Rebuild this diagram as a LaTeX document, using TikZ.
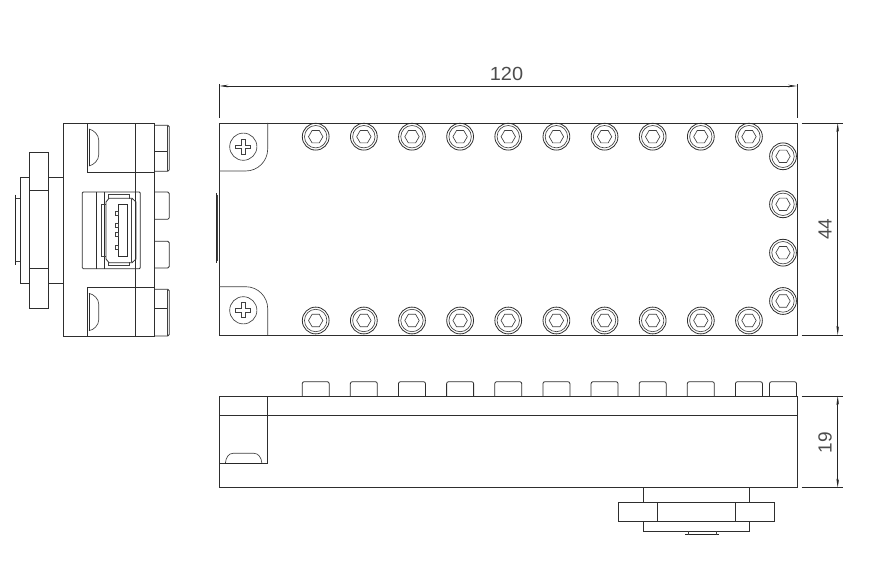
\documentclass[tikz,border=0pt]{standalone}
\usepackage{fontspec}
\setmainfont{Liberation Sans}
\usetikzlibrary{%
  arrows.meta%
}
\tikzset{
  part/.style={line width=0.8pt,draw=black!82},
  thin part/.style={line width=0.65pt,draw=black!75},
  heavy/.style={line width=1.2pt,draw=black!85},
  dim/.style={line width=0.7pt,draw=black!85},
  dimarrow/.style={dim,{Stealth[length=9pt,width=2.6pt]}-{Stealth[length=9pt,width=2.6pt]}},
  dimtext/.style={text=black!70,font=\fontsize{19}{19}\selectfont,inner sep=0pt}
}
\newcommand{\bolthead}[2]{%
  \draw [part] (#1,#2) circle (13.4);
  \draw [thin part] (#1,#2) circle (11.2);
  \draw [thin part] (#1-7.2,#2) -- (#1-3.6,#2-6.2) -- (#1+3.6,#2-6.2) -- (#1+7.2,#2) -- (#1+3.6,#2+6.2) -- (#1-3.6,#2+6.2) -- cycle;
}
\newcommand{\crossscrew}[2]{%
  \draw [thin part] (#1,#2) circle (13.6);
  \draw [thin part] (#1-1.6,#2-7.5) -- (#1+1.6,#2-7.5) -- (#1+1.6,#2-1.6) -- (#1+7.5,#2-1.6) -- (#1+7.5,#2+1.6) -- (#1+1.6,#2+1.6) -- (#1+1.6,#2+7.5) -- (#1-1.6,#2+7.5) -- (#1-1.6,#2+1.6) -- (#1-7.5,#2+1.6) -- (#1-7.5,#2-1.6) -- (#1-1.6,#2-1.6) -- cycle;
}
\newcommand{\sidebolt}[1]{%
  \draw [part,rounded corners=2pt] (#1-13.5,396) -- (#1-13.5,381.7) -- (#1+13.5,381.7) -- (#1+13.5,396);
}
\begin{document}
\begin{tikzpicture}[x=1pt,y=-1pt]
  \useasboundingbox (0,0) rectangle (870,572);
  % top view
  \draw [part] (219.3,123) rectangle (797,335);
  \draw [thin part] (267.7,123) -- (267.7,149) arc (0:90:22) -- (219.3,171);
  \draw [thin part] (219.3,286.7) -- (245.7,286.7) arc (-90:0:22) -- (267.7,335);
  \crossscrew{243.3}{146.7}
  \crossscrew{243.3}{310.3}
  \draw [part] (216.4,193) -- (216.4,263);
  \draw [thin part] (217.8,195) -- (217.8,261);
  \foreach \k in {0,...,9} {
    \pgfmathsetmacro{\bx}{315.7+48.14*\k}
    \bolthead{\bx}{136.7}
    \bolthead{\bx}{320.5}
  }
  \foreach \by in {156.3,204.3,252.7,301} {
    \bolthead{783}{\by}
  }
  % dimensions
  \coordinate (dimL) at (219.3,86);
  \coordinate (dimR) at (797,86);
  \draw [dim] (219.3,84) -- (219.3,118);
  \draw [dim] (797,84) -- (797,118);
  \draw [dimarrow] (dimL) -- (dimR);
  \node [dimtext,xscale=1.05] (len) at (506.5,74) {120};
  \draw [dim] (801.7,123) -- (842.7,123);
  \draw [dim] (801.7,335) -- (842.7,335);
  \coordinate (dimT) at (837.7,123);
  \coordinate (dimB) at (837.7,335);
  \draw [dimarrow] (dimT) -- (dimB);
  \node [dimtext,rotate=90] (wid) at (825,229) {44};
  \draw [dim] (801.7,396) -- (842.7,396);
  \draw [dim] (801.7,487.7) -- (842.7,487.7);
  \coordinate (dimU) at (837.7,396);
  \coordinate (dimD) at (837.7,487.7);
  \draw [dimarrow] (dimU) -- (dimD);
  \node [dimtext,rotate=90] (hgt) at (825,442.7) {19};
  % front view
  \draw [part] (219.3,396) rectangle (797,487.7);
  \draw [part] (219.3,415.3) -- (797,415.3);
  \draw [part] (267.7,396) -- (267.7,463.7) -- (219.3,463.7);
  \draw [thin part] (225.3,463.7) .. controls (225.8,457) and (229,453.3) .. (233,453.3) -- (254,453.3) .. controls (258,453.3) and (261.5,457) .. (262,463.7);
  \draw [heavy] (225.3,463.2) -- (262,463.2);
  \foreach \k in {0,...,9} {
    \pgfmathsetmacro{\bx}{315.7+48.14*\k}
    \sidebolt{\bx}
  }
  \sidebolt{783}
  \draw [part] (643.3,487.7) -- (643.3,502.3);
  \draw [part] (749,487.7) -- (749,502.3);
  \draw [part] (618.3,502.3) rectangle (774,521.3);
  \draw [part] (657.3,502.3) -- (657.3,521.3);
  \draw [part] (735,502.3) -- (735,521.3);
  \draw [part] (643.3,521.3) -- (643.3,531.3) -- (749,531.3) -- (749,521.3);
  \draw [heavy] (685,534.5) -- (719.3,534.5);
  \draw [thin part] (688.3,531.3) -- (688.3,535);
  \draw [thin part] (716.7,531.3) -- (716.7,535);
  % side view
  \draw [part] (63.3,123.7) rectangle (154.7,336);
  \draw [part] (135.7,123.7) -- (135.7,336);
  \draw [part] (87.7,123.7) -- (87.7,172) -- (154.7,172);
  \draw [part] (87.7,336) -- (87.7,287.3) -- (154.7,287.3);
  \draw [thin part] (88.9,129) .. controls (94,130) and (98.7,135) .. (98.7,140) -- (98.7,155) .. controls (98.7,160) and (94,165) .. (88.9,166);
  \draw [thin part] (88.9,293.3) .. controls (94,294.3) and (98.7,299) .. (98.7,304) -- (98.7,320) .. controls (98.7,325) and (94,330) .. (88.9,330.7);
  \draw [part] (88.9,129) -- (88.9,166);
  \draw [part] (88.9,293.3) -- (88.9,330.7);
  \draw [part,rounded corners=1.5pt] (154.7,125.3) -- (169.3,125.3) -- (169.3,171.3) -- (154.7,171.3);
  \draw [part] (154.7,151.3) -- (168,151.3);
  \draw [part,rounded corners=1.5pt] (154.7,192) -- (169.3,192) -- (169.3,219.3) -- (154.7,219.3);
  \draw [part,rounded corners=1.5pt] (154.7,241.3) -- (169.3,241.3) -- (169.3,268) -- (154.7,268);
  \draw [part,rounded corners=1.5pt] (154.7,289.3) -- (169.3,289.3) -- (169.3,336) -- (154.7,336);
  \draw [part] (154.7,308.7) -- (168,308.7);
  \draw [thin part] (167,125.8) -- (167,170.8);
  \draw [thin part] (167,289.8) -- (167,335.5);
  \draw [part] (29.7,152) rectangle (48.7,308.7);
  \draw [part] (29.7,190.7) -- (48.7,190.7);
  \draw [part] (29.7,268.7) -- (48.7,268.7);
  \draw [part] (29.7,177) -- (20,177) -- (20,283.7) -- (29.7,283.7);
  \draw [part] (48.7,177) -- (63.3,177);
  \draw [part] (48.7,283.7) -- (63.3,283.7);
  \draw [heavy] (15.8,194.7) -- (15.8,265.3);
  \draw [thin part] (15.5,198.7) -- (20,198.7);
  \draw [thin part] (15.5,261.3) -- (20,261.3);
  % usb socket
  \draw [part,rounded corners=1pt] (82.3,192) rectangle (140.3,268.7);
  \draw [part] (96.7,192) -- (96.7,268.7);
  \draw [part] (104.3,192) -- (104.3,268.7);
  \draw [part] (106,202) -- (109,198.3) -- (132,198.3) -- (136,202) -- (136,259) -- (132,262.7) -- (109,262.7) -- (106,259) -- cycle;
  \draw [thin part] (108.3,199) -- (108.3,194.3) -- (129.3,194.3) -- (129.3,199);
  \draw [thin part] (108.3,262) -- (108.3,265.3) -- (129.3,265.3) -- (129.3,262);
  \draw [thin part] (106,204.3) -- (101,204.3) -- (101,256.7) -- (106,256.7);
  \draw [thin part] (131.7,199) -- (131.7,262);
  \draw [part] (118.3,204) rectangle (127,256.7);
  \foreach \py in {213,225,234.7,247} {
    \draw [thin part] (115.6,\py-2) rectangle (118.3,\py+2);
  }
\end{tikzpicture}
\end{document}
